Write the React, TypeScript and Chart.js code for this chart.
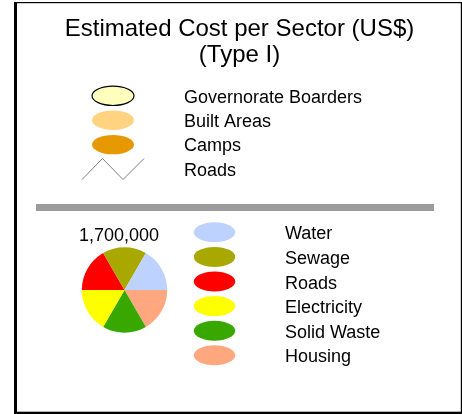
import { useEffect, useRef } from 'react';
import { Chart, registerables } from 'chart.js';

Chart.register(...registerables);

const titleLines = ['Estimated Cost per Sector (US$)', '(Type I)'];
const mapLegendLabels = ['Governorate Boarders', 'Built Areas', 'Camps', 'Roads'];
const mapLegendColors = ['#FFFFBE', '#FFD37F', '#E69800', '#808080'];
const sectorLabels = ['Water', 'Sewage', 'Roads', 'Electricity', 'Solid Waste', 'Housing'];
const sectorColors = ['#BED2FF', '#A8A800', '#FF0000', '#FFFF00', '#38A800', '#FFA77F'];
const sectorValues = [283333, 283333, 283334, 283333, 283333, 283334];
const totalCostLabel = '1,700,000';

const FONT = '"Liberation Sans", Arial, Helvetica, sans-serif';

const decorPlugin = {
  id: 'decor',
  beforeDraw(chart: any) {
    const ctx: CanvasRenderingContext2D = chart.ctx;
    const W = chart.width;
    const H = chart.height;
    ctx.save();
    ctx.fillStyle = '#FFFFFF';
    ctx.fillRect(0, 0, W, H);
    ctx.restore();
  },
  afterDraw(chart: any) {
    const ctx: CanvasRenderingContext2D = chart.ctx;
    ctx.save();
    // frame
    ctx.fillStyle = '#000000';
    ctx.fillRect(14, 2, 3, 412); // left thick
    ctx.fillRect(14, 2, 448, 1.2); // top thin
    ctx.fillRect(460.8, 2, 1.2, 412); // right thin
    ctx.fillRect(14, 411.7, 448, 2.3); // bottom thick

    // title
    ctx.fillStyle = '#000000';
    ctx.font = `24px ${FONT}`;
    ctx.textAlign = 'center';
    ctx.textBaseline = 'alphabetic';
    ctx.fillText(titleLines[0], 239.5, 36);
    ctx.fillText(titleLines[1], 239.5, 62);

    // map legend
    const topRow = 24.4;
    ctx.textAlign = 'left';
    ctx.font = `18px ${FONT}`;
    mapLegendLabels.forEach((lbl, i) => {
      const cy = 95.8 + topRow * i;
      if (i < 3) {
        ctx.beginPath();
        ctx.ellipse(113, cy, 21, 9.7, 0, 0, Math.PI * 2);
        ctx.fillStyle = mapLegendColors[i];
        ctx.fill();
        if (i === 0) {
          ctx.lineWidth = 1.2;
          ctx.strokeStyle = '#000000';
          ctx.stroke();
        }
      } else {
        ctx.beginPath();
        ctx.moveTo(82, cy + 10.5);
        ctx.lineTo(102.5, cy - 10.5);
        ctx.lineTo(123, cy + 10.5);
        ctx.lineTo(144, cy - 10.5);
        ctx.lineWidth = 1;
        ctx.strokeStyle = mapLegendColors[i];
        ctx.stroke();
      }
      ctx.fillStyle = '#000000';
      ctx.fillText(lbl, 184, 102.5 + topRow * i);
    });

    // separator bar
    ctx.fillStyle = '#9C9C9C';
    ctx.fillRect(36, 204, 398, 7);

    // pie label
    ctx.fillStyle = '#000000';
    ctx.textAlign = 'center';
    ctx.font = `18px ${FONT}`;
    ctx.fillText(totalCostLabel, 119, 241);

    // sector legend
    const row = 24.6;
    ctx.textAlign = 'left';
    sectorLabels.forEach((lbl, i) => {
      const cy = 232.3 + row * i;
      ctx.beginPath();
      ctx.ellipse(214.5, cy, 20.7, 10, 0, 0, Math.PI * 2);
      ctx.fillStyle = sectorColors[i];
      ctx.fill();
      ctx.fillStyle = '#000000';
      ctx.fillText(lbl, 285, 239.3 + row * i);
    });
    ctx.restore();
  },
};

export default function App() {
  const ref = useRef<HTMLCanvasElement | null>(null);
  useEffect(() => {
    if (!ref.current) return;
    // pie drawn clockwise; legend order runs counter-clockwise from east
    const pieLabels = [...sectorLabels].reverse();
    const pieValues = [...sectorValues].reverse();
    const pieColors = [...sectorColors].reverse();
    const chart = new Chart(ref.current, {
      type: 'pie',
      data: {
        labels: pieLabels,
        datasets: [
          {
            data: pieValues,
            backgroundColor: pieColors,
            borderWidth: 0,
          },
        ],
      },
      options: {
        responsive: false,
        animation: false,
        devicePixelRatio: 1,
        rotation: 90,
        layout: {
          padding: { left: 81.7, right: 294.7, top: 247.3, bottom: 81.3 },
        },
        plugins: {
          legend: { display: false },
          title: { display: false },
          tooltip: { enabled: false },
        },
      },
      plugins: [decorPlugin],
    });
    return () => chart.destroy();
  }, []);
  return (
    <div style={{ position: 'absolute', left: 0, top: 0, width: 462, height: 414 }}>
      <canvas ref={ref} width={462} height={414} style={{ display: 'block' }} />
    </div>
  );
}
